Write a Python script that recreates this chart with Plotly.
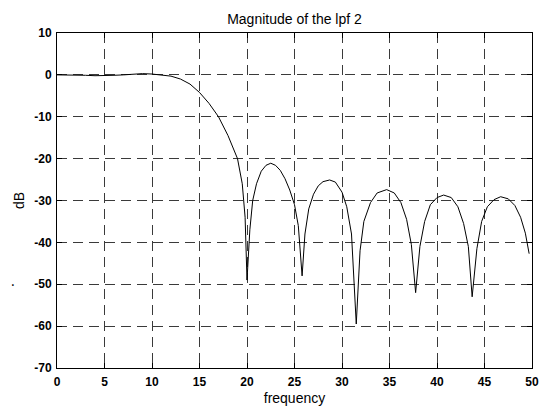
import plotly.graph_objects as go

freq = [0, 1, 2, 3, 4, 5, 6, 7, 8, 9, 10, 11, 12, 13, 14, 15, 16, 17, 18, 19, 19.5, 19.8, 20.0,
        20.3, 20.6, 21.0, 21.5, 22.0, 22.5, 23.0, 23.5, 24.0, 24.5, 25.0, 25.4, 25.8,
        26.1, 26.5, 27.0, 27.5, 28.0, 28.7, 29.3, 30.0, 30.5, 31.0, 31.5,
        31.9, 32.3, 33.0, 33.7, 34.7, 35.5, 36.2, 36.8, 37.3, 37.75,
        38.2, 38.7, 39.3, 40.0, 40.7, 41.5, 42.2, 42.8, 43.3, 43.7,
        44.2, 44.7, 45.3, 46.0, 46.7, 47.5, 48.2, 48.8, 49.3, 49.7]
mag_db = [0, 0, 0, -0.1, -0.2, -0.2, -0.1, 0, 0.2, 0.3, 0.2, 0, -0.3, -1.0, -2.2, -4.2, -6.8, -10.0, -14.5, -20.0, -26.0, -34.0, -49.0,
          -37.0, -30.0, -26.0, -23.0, -21.6, -21.1, -21.6, -22.8, -24.8, -27.5, -31.0, -36.0, -48.0,
          -38.0, -32.0, -28.5, -26.5, -25.5, -25.1, -25.6, -28.0, -31.5, -38.0, -59.5,
          -42.0, -35.0, -30.5, -28.2, -27.4, -28.2, -30.5, -34.5, -40.5, -52.0,
          -41.0, -35.0, -31.0, -29.3, -28.7, -29.3, -31.5, -35.5, -41.0, -53.0,
          -41.5, -35.0, -31.5, -29.8, -29.1, -29.6, -31.2, -34.0, -37.8, -42.7]

x_ticks = [0, 5, 10, 15, 20, 25, 30, 35, 40, 45, 50]
y_ticks = [-70, -60, -50, -40, -30, -20, -10, 0, 10]

FAM = "Liberation Sans, Arial, Helvetica, sans-serif"
tick_font = dict(family=FAM, size=12, color="black", weight="bold")
label_font = dict(family=FAM, size=14, color="black")

fig = go.Figure()
fig.add_trace(go.Scatter(x=freq, y=mag_db, mode="lines",
                         line=dict(color="black", width=1), showlegend=False))

axis_common = dict(showline=True, linecolor="black", linewidth=1, mirror="ticks",
                   ticks="inside", ticklen=5, tickcolor="black",
                   showgrid=True, gridcolor="#3a3a3a", gridwidth=1, griddash="10px,6px",
                   zeroline=False, tickfont=tick_font)

L, R, T, B = 57, 16, 33, 33
W, H = 551, 415
pw, ph = W - L - R, H - T - B

fig.update_layout(
    width=W, height=H,
    margin=dict(l=L, r=R, t=T, b=B),
    paper_bgcolor="white", plot_bgcolor="white",
    title=dict(text="Magnitude of the lpf 2", x=0.5, xref="paper", xanchor="center",
               y=1 - 19 / H, yref="container", yanchor="middle", font=label_font),
    xaxis=dict(range=[0, 50], tickvals=x_ticks, ticktext=[str(v) for v in x_ticks],
               ticklabelstandoff=3,
               title=dict(text="frequency", font=label_font, standoff=4), **axis_common),
    yaxis=dict(range=[-70, 10], tickvals=y_ticks, ticktext=[str(v) for v in y_ticks],
               ticklabelstandoff=2,
               title=dict(text="dB", font=label_font, standoff=6), **axis_common),
    annotations=[dict(text="·", x=(13 - L) / pw, y=(H - B - 295) / ph, xref="paper", yref="paper",
                      showarrow=False, font=dict(size=14, color="black"),
                      xanchor="center", yanchor="middle")],
)

fig.write_html("out.html")
